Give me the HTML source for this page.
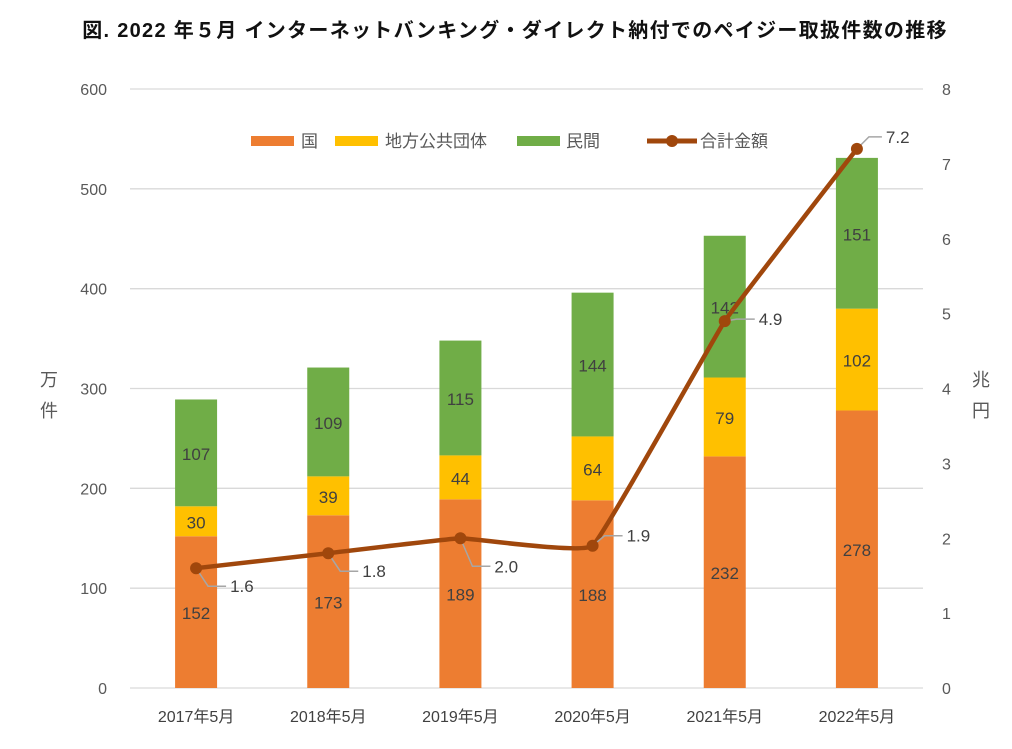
<!DOCTYPE html>
<html><head><meta charset="utf-8"><style>
body{margin:0;background:#fff;}
svg text{font-family:"Liberation Sans","Noto Sans CJK JP",sans-serif;}
</style></head><body>
<svg id="c" width="1012" height="744" viewBox="0 0 1012 744" xmlns="http://www.w3.org/2000/svg">
<text x="515" y="37" text-anchor="middle" font-size="20" font-weight="bold" fill="#111" letter-spacing="1.3">図.  2022 年５月 インターネットバンキング・ダイレクト納付でのペイジー取扱件数の推移</text>
<g id="grid"></g><g id="bars"></g><g id="line"></g><g id="axes"></g>
<g font-size="17" fill="#595959">
<rect x="251" y="136" width="43" height="10" fill="#ED7D31"/>
<text x="301" y="147">国</text>
<rect x="335" y="136" width="43" height="10" fill="#FFC000"/>
<text x="385" y="147">地方公共団体</text>
<rect x="517" y="136" width="43" height="10" fill="#70AD47"/>
<text x="566" y="147">民間</text>
<line x1="647" y1="141" x2="697" y2="141" stroke="#A0470C" stroke-width="5"/>
<circle cx="672" cy="141" r="6" fill="#A0470C"/>
<text x="700" y="147">合計金額</text>
</g>
<text x="40" y="386" font-size="18" fill="#595959">万</text>
<text x="40" y="417" font-size="18" fill="#595959">件</text>
<text x="972" y="386" font-size="18" fill="#595959">兆</text>
<text x="972" y="417" font-size="18" fill="#595959">円</text>
</svg>
<script>
const categories=["2017年5月","2018年5月","2019年5月","2020年5月","2021年5月","2022年5月"];
const kuni=[152,173,189,188,232,278];
const chiho=[30,39,44,64,79,102];
const minkan=[107,109,115,144,142,151];
const total=[1.6,1.8,2.0,1.9,4.9,7.2];
const leftTicks=[0,100,200,300,400,500,600];
const rightTicks=[0,1,2,3,4,5,6,7,8];
const NS="http://www.w3.org/2000/svg";
const X0=130,X1=923,Y0=688,Y1=89;
const yL=v=>Y0-(v/600)*(Y0-Y1);
const yR=v=>Y0-(v/8)*(Y0-Y1);
const step=(X1-X0)/categories.length;
const xC=i=>X0+step*(i+0.5);
const BW=42;
function mk(tag,attrs,parent,txt){const e=document.createElementNS(NS,tag);for(const k in attrs)e.setAttribute(k,attrs[k]);if(txt!==undefined)e.textContent=txt;document.getElementById(parent).appendChild(e);return e;}
leftTicks.forEach(t=>{
 const l=mk('line',{x1:X0,x2:X1,y1:yL(t),y2:yL(t),stroke:'#D9D9D9','stroke-width':1.3},'grid');
 
 
 const tx=mk('text',{x:107,y:yL(t)+6,'text-anchor':'end','font-size':16,fill:'#595959'},'axes',t);
 
 
});
rightTicks.forEach(t=>{
 const tx=mk('text',{x:942,y:yR(t)+6,'font-size':16,fill:'#595959'},'axes',t);
 
 
});
const series=[[kuni,'#ED7D31','kuni'],[chiho,'#FFC000','chiho'],[minkan,'#70AD47','minkan']];
categories.forEach((c,i)=>{
 let base=0;
 series.forEach(([arr,col,nm])=>{
  const v=arr[i];
  const r=mk('rect',{x:xC(i)-BW/2,y:yL(base+v),width:BW,height:yL(base)-yL(base+v),fill:col},'bars');
  
  
  const t=mk('text',{x:xC(i),y:(yL(base)+yL(base+v))/2+7,'text-anchor':'middle','font-size':17,fill:'#404040'},'bars',v);
  
  
  base+=v;
 });
 const xt=mk('text',{x:xC(i),y:722,'text-anchor':'middle','font-size':16,fill:'#404040'},'axes',c);
 
 
});
const pts=total.map((v,i)=>[xC(i),yR(v)]);
let d='M'+pts[0][0]+','+pts[0][1];
for(let i=0;i<pts.length-1;i++){
 const p0=pts[Math.max(0,i-1)],p1=pts[i],p2=pts[i+1],p3=pts[Math.min(pts.length-1,i+2)];
 const t=0.04;
 d+=' C'+(p1[0]+(p2[0]-p0[0])*t)+','+(p1[1]+(p2[1]-p0[1])*t)+' '+(p2[0]-(p3[0]-p1[0])*t)+','+(p2[1]-(p3[1]-p1[1])*t)+' '+p2[0]+','+p2[1];
}
const path=mk('path',{d:d,fill:'none',stroke:'#A0470C','stroke-width':4.5},'line');


const offs=[[30,18],[30,18],[30,28],[30,-10],[30,-2],[25,-12]];
pts.forEach((p,i)=>{
 const [dx,dy]=offs[i];
 const ll=mk('polyline',{points:`${p[0]},${p[1]} ${p[0]+12},${p[1]+dy} ${p[0]+dx},${p[1]+dy}`,fill:'none',stroke:'#A6A6A6','stroke-width':1.5},'line');
 
 
 const c=mk('circle',{cx:p[0],cy:p[1],r:6,fill:'#A0470C'},'line');
 
 
 const t=mk('text',{x:p[0]+dx+4,y:p[1]+dy+6,'font-size':17,fill:'#404040'},'line',total[i].toFixed(1));
 
 
});
</script>
</body></html>
